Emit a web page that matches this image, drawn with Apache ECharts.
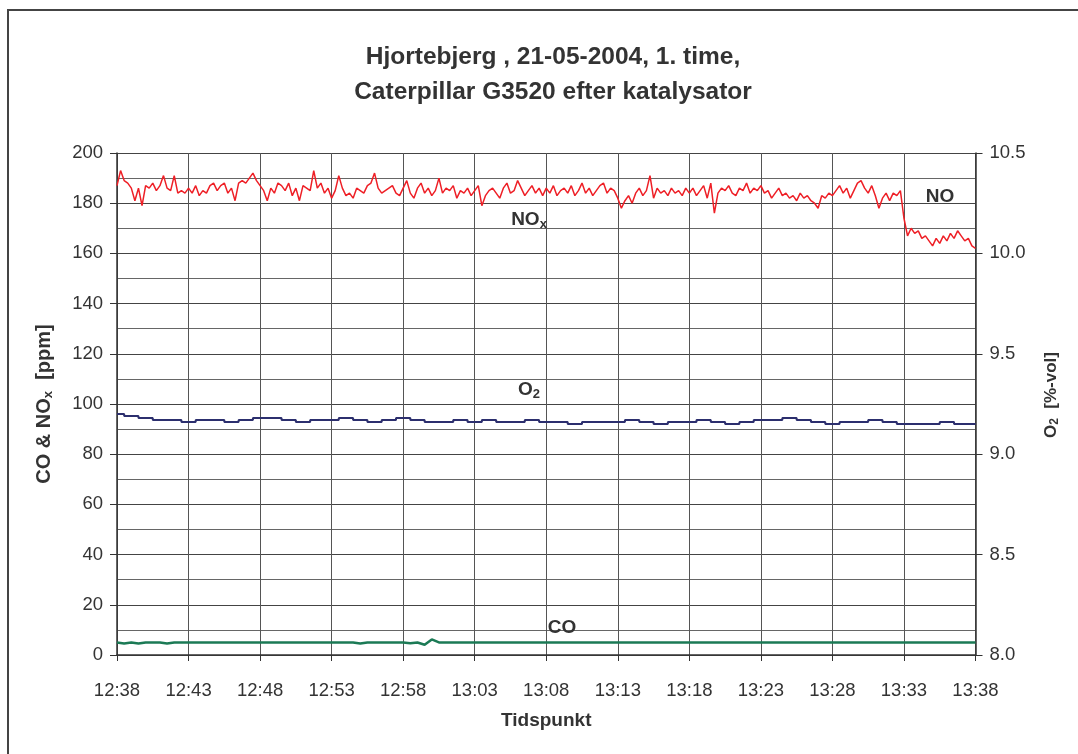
<!DOCTYPE html>
<html><head><meta charset="utf-8">
<script src="https://cdn.jsdelivr.net/npm/echarts@6/dist/echarts.min.js"></script>
<style>html,body{margin:0;padding:0;background:#fff}#c{width:1078px;height:754px}</style>
</head><body><div id="c"></div>
<script>
// x tick labels (every 5 minutes from 12:38)
const tickLabels = ['12:38','12:43','12:48','12:53','12:58','13:03','13:08','13:13','13:18','13:23','13:28','13:33','13:38'];
// NOx [ppm], one reading every 15 s from 12:38 (minutes = index*0.25)
const noxValues = [
187,193,189,188,186,181,186,179,187,186,188,185,187,191,186,185,191,184,185,184,
186,184,187,183,185,184,187,188,185,187,188,184,186,181,188,189,188,190,192,189,
187,185,181,186,184,188,187,185,188,183,186,181,187,186,185,193,186,188,184,186,
182,185,191,186,183,184,182,186,185,184,187,188,192,186,184,185,186,187,184,183,
186,189,184,182,186,188,184,186,183,185,190,184,186,185,187,182,185,184,186,183,
185,187,179,183,185,186,184,182,186,188,184,185,189,186,183,185,187,184,186,183,
186,184,187,183,185,186,184,187,183,185,188,184,186,183,185,187,188,184,186,185,
182,178,181,183,180,184,186,183,185,191,182,186,184,185,183,186,184,185,183,186,
184,186,183,185,187,182,188,176,184,186,185,187,184,183,186,185,188,184,186,185,
187,184,185,182,184,186,183,184,182,183,181,184,182,183,181,180,178,183,182,184,
183,185,187,184,186,182,185,188,189,186,184,187,183,178,182,184,181,184,183,185,
174,167,170,168,169,166,167,165,163,166,164,167,165,168,166,169,167,165,166,163,162];
// O2 [%-vol], one reading per minute from 12:38
const o2Values = [
9.20,9.19,9.18,9.17,9.17,9.16,9.17,9.17,9.16,9.17,
9.18,9.18,9.17,9.16,9.17,9.17,9.18,9.17,9.16,9.17,
9.18,9.17,9.16,9.16,9.17,9.16,9.17,9.16,9.16,9.17,
9.16,9.16,9.15,9.16,9.16,9.16,9.17,9.16,9.15,9.16,
9.16,9.17,9.16,9.15,9.16,9.17,9.17,9.18,9.17,9.16,
9.15,9.16,9.16,9.17,9.16,9.15,9.15,9.15,9.16,9.15,9.15];
// CO [ppm], one reading every 30 s from 12:38
const coValues = [
5,4.6,5,4.6,5,5,5,4.6,5,5,5,5,5,5,5,5,5,5,5,5,
5,5,5,5,5,5,5,5,5,5,5,5,5,5,4.6,5,5,5,5,5,
5,4.7,5,4.1,6.2,5,5,5,5,5,5,5,5,5,5,5,5,5,5,5,
5,5,5,5,5,5,5,5,5,5,5,5,5,5,5,5,5,5,5,5,
5,5,5,5,5,5,5,5,5,5,5,5,5,5,5,5,5,5,5,5,
5,5,5,5,5,5,5,5,5,5,5,5,5,5,5,5,5,5,5,5,5];

const noxData = noxValues.map((v,i)=>[i*0.25, v]);
const o2Data = o2Values.map((v,i)=>[i, v]);
const coData = coValues.map((v,i)=>[i*0.5, v]);

const FONT = 'Liberation Sans';
const LBL = {b:{fontFamily:FONT, fontSize:19, fontWeight:'bold', fill:'#333'},
             s:{fontFamily:FONT, fontSize:13, fontWeight:'bold', fill:'#333', padding:[8,0,0,0]}};
const chart = echarts.init(document.getElementById('c'), null, {renderer:'canvas'});
chart.setOption({
  animation:false,
  backgroundColor:'#fff',
  title:{
    text:'Hjortebjerg , 21-05-2004, 1. time,\nCaterpillar G3520 efter katalysator',
    left:548, top:35, textAlign:'center',
    textStyle:{fontFamily:FONT, fontSize:24.5, fontWeight:'bold', color:'#333', lineHeight:35}
  },
  grid:{left:117, right:102.5, top:153, bottom:99, containLabel:false},
  xAxis:{
    type:'value', min:0, max:60, interval:5,
    name:'Tidspunkt', nameLocation:'middle', nameGap:56,
    nameTextStyle:{fontFamily:FONT, fontSize:19, fontWeight:'bold', color:'#333'},
    axisLine:{show:true, onZero:false, lineStyle:{color:'#333', width:1.5}},
    axisTick:{show:true, inside:false, length:6, lineStyle:{color:'#333'}},
    axisLabel:{fontFamily:FONT, fontSize:18.5, color:'#333', margin:26,
      formatter:(v)=>tickLabels[Math.round(v/5)]},
    splitLine:{show:true, lineStyle:{color:'#555', width:1}}
  },
  yAxis:[{
    type:'value', min:0, max:200, interval:20, position:'left',
    name:'{a|CO & NO}{s|x}{a|  [ppm]}', nameLocation:'middle', nameGap:62, nameRotate:90,
    nameTextStyle:{color:'#333', rich:{
      a:{fontFamily:FONT, fontSize:20, fontWeight:'bold', color:'#333'},
      s:{fontFamily:FONT, fontSize:13, fontWeight:'bold', color:'#333', padding:[8,0,0,0]}}},
    axisLine:{show:true, lineStyle:{color:'#333', width:1.5}},
    axisTick:{show:true, inside:false, length:7, lineStyle:{color:'#333'}},
    axisLabel:{fontFamily:FONT, fontSize:18.5, color:'#333', margin:14},
    splitLine:{show:true, lineStyle:{color:'#444', width:1}},
    minorTick:{show:false, splitNumber:2},
    minorSplitLine:{show:true, lineStyle:{color:'#666', width:1}}
  },{
    type:'value', min:8.0, max:10.5, interval:0.5, position:'right',
    axisLine:{show:true, lineStyle:{color:'#333', width:1.5}},
    axisTick:{show:true, inside:false, length:7, lineStyle:{color:'#333'}},
    axisLabel:{fontFamily:FONT, fontSize:18.5, color:'#333', margin:14, formatter:(v)=>v.toFixed(1)},
    splitLine:{show:false}
  }],
  series:[
    {name:'CO', type:'line', yAxisIndex:0, data:coData, showSymbol:false, symbol:'none',
      lineStyle:{color:'#1b7a55', width:2.5}, z:3},
    {name:'O2', type:'line', yAxisIndex:1, data:o2Data, showSymbol:false, symbol:'none', step:'middle',
      lineStyle:{color:'#2c2f6e', width:2}, z:3},
    {name:'NOx', type:'line', yAxisIndex:0, data:noxData, showSymbol:false, symbol:'none',
      lineStyle:{color:'#ee1f26', width:1.5}, z:4}
  ],
  graphic:[
    {type:'rect', shape:{x:8, y:10, width:1200, height:900}, style:{fill:null, stroke:'#444', lineWidth:2}, silent:true, z:-1},
    {type:'text', x:1051, y:395, rotation:Math.PI/2, style:{text:'{a|O}{s|2}{a|  [%-vol]}', textAlign:'center', textVerticalAlign:'middle',
      rich:{a:{fontFamily:FONT, fontSize:17, fontWeight:'bold', fill:'#333'},
            s:{fontFamily:FONT, fontSize:12, fontWeight:'bold', fill:'#333', padding:[7,0,0,0]}}}, z:10},
    {type:'text', x:529, y:220, style:{text:'{b|NO}{s|x}', textAlign:'center', textVerticalAlign:'middle', rich:LBL}, z:10},
    {type:'text', x:529, y:390, style:{text:'{b|O}{s|2}', textAlign:'center', textVerticalAlign:'middle', rich:LBL}, z:10},
    {type:'text', x:562, y:628, style:{text:'CO', textAlign:'center', textVerticalAlign:'middle',
      fontFamily:FONT, fontSize:19, fontWeight:'bold', fill:'#333'}, z:10},
    {type:'text', x:940, y:197, style:{text:'NO', textAlign:'center', textVerticalAlign:'middle',
      fontFamily:FONT, fontSize:19, fontWeight:'bold', fill:'#333'}, z:10}
  ]
});
</script></body></html>
